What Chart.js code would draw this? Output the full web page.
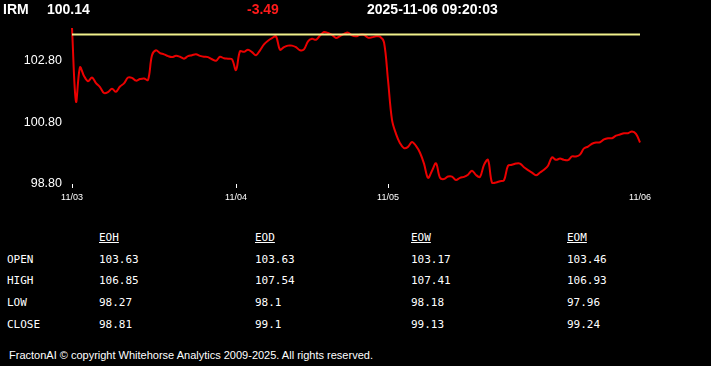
<!DOCTYPE html>
<html>
<head>
<meta charset="utf-8">
<script src="https://cdn.jsdelivr.net/npm/chart.js@4"></script>
<style>
  body { margin: 0; background: #000; width: 711px; height: 366px; overflow: hidden; position: relative; font-family: "Liberation Sans", Arial, sans-serif; }
  .hdr { position: absolute; top: 1px; font: bold 14px "Liberation Sans", Arial, sans-serif; color: #fff; line-height: 16px; }
  #chartBox { position: absolute; left: 0; top: 0; width: 711px; height: 210px; }
  .tbl { position: absolute; font: 11px "DejaVu Sans Mono", monospace; color: #fff; line-height: 14px; }
  .tbl u { text-decoration: underline; }
  #footer { position: absolute; left: 9px; top: 349px; font: 11px "Liberation Sans", Arial, sans-serif; color: #fff; letter-spacing: 0px; }
</style>
</head>
<body>
<div id="chartBox"><canvas id="priceChart"></canvas></div>
<div id="header"></div>
<div id="table"></div>
<div id="footer">FractonAI © copyright Whitehorse Analytics 2009-2025. All rights reserved.</div>
<script>
// Header values
const symbol = "IRM";
const lastPrice = "100.14";
const change = "-3.49";
const timestamp = "2025-11-06 09:20:03";

// Price series (one point every ~4px of the original plot)
const prices = [
  103.84, 101.46, 102.57, 102.29, 102.12, 102.24, 102.06, 101.93, 101.74, 101.77,
  101.88, 101.78, 101.95, 102.05, 102.24, 102.23, 102.14, 102.19, 102.21, 102.16,
  102.96, 103.12, 103.03, 102.99, 102.93, 102.90, 102.94, 102.91, 102.85, 102.93,
  102.96, 102.99, 102.94, 102.91, 102.90, 102.83, 102.78, 102.91, 102.86, 102.85,
  102.83, 102.48, 103.09, 103.07, 103.14, 103.06, 102.96, 103.12, 103.31, 103.43,
  103.51, 103.57, 103.14, 103.22, 103.27, 103.27, 103.22, 103.12, 103.15, 103.41,
  103.49, 103.46, 103.60, 103.71, 103.68, 103.62, 103.52, 103.58, 103.65, 103.69,
  103.60, 103.57, 103.62, 103.62, 103.53, 103.54, 103.57, 103.56, 103.38, 102.16,
  100.87, 100.42, 100.12, 99.96, 100.00, 100.16, 100.03, 99.81, 99.46, 99.00,
  99.23, 99.47, 99.00, 98.96, 99.04, 99.04, 98.93, 99.00, 99.03, 99.10,
  99.23, 99.09, 99.03, 99.42, 99.58, 98.84, 98.85, 98.89, 98.92, 99.39,
  99.42, 99.46, 99.46, 99.34, 99.25, 99.17, 99.08, 99.17, 99.26, 99.39,
  99.66, 99.58, 99.62, 99.58, 99.57, 99.69, 99.69, 99.75, 99.95, 100.01,
  100.10, 100.14, 100.15, 100.24, 100.28, 100.28, 100.36, 100.40, 100.44, 100.44,
  100.50, 100.42, 100.14
];
const openPrice = 103.63;

// Day labels and the index where each day starts
const dayLabels = ["11/03", "11/04", "11/05", "11/06"];
const dayStarts = [0, 41, 79, 142];

// Y axis tick labels
const yTicks = [98.80, 100.80, 102.80];
const yMin = 98.80;
const yMax = 103.84;

// Summary table
const tableCols = ["EOH", "EOD", "EOW", "EOM"];
const tableRows = ["OPEN", "HIGH", "LOW", "CLOSE"];
const openVals = ["103.63", "103.63", "103.17", "103.46"];
const highVals = ["106.85", "107.54", "107.41", "106.93"];
const lowVals = ["98.27", "98.1", "98.18", "97.96"];
const closeVals = ["98.81", "99.1", "99.13", "99.24"];

// header
const header = document.getElementById("header");
[[symbol, 3, "#fff"], [lastPrice, 47, "#fff"], [change, 247, "#ff1a1a"], [timestamp, 367, "#fff"]]
  .forEach(h => {
    const s = document.createElement("span");
    s.className = "hdr";
    s.style.left = h[1] + "px";
    s.style.color = h[2];
    s.textContent = h[0];
    header.appendChild(s);
  });

// table
const tableEl = document.getElementById("table");
const colX = [99, 255, 411, 567];
const rowY = [253, 274, 296, 318];
const rowVals = [openVals, highVals, lowVals, closeVals];
function addCell(text, x, y, underline) {
  const d = document.createElement("div");
  d.className = "tbl";
  d.style.left = x + "px";
  d.style.top = y + "px";
  if (underline) d.innerHTML = "<u>" + text + "</u>";
  else d.textContent = text;
  tableEl.appendChild(d);
}
tableCols.forEach((c, i) => addCell(c, colX[i], 231, true));
tableRows.forEach((r, j) => {
  addCell(r, 7, rowY[j], false);
  rowVals[j].forEach((v, i) => addCell(v, colX[i], rowY[j], false));
});

// chart
const labels = prices.map((p, i) => {
  let d = 0;
  dayStarts.forEach((s, k) => { if (i >= s) d = k; });
  return dayLabels[d];
});

const ctx = document.getElementById("priceChart");
new Chart(ctx, {
  type: "line",
  data: {
    labels: labels,
    datasets: [{
      data: prices.map(() => openPrice),
      borderColor: "rgb(240,240,140)",
      borderWidth: 2,
      pointRadius: 0,
      tension: 0
    }, {
      data: prices,
      borderColor: "rgb(235,0,0)",
      borderWidth: 2,
      pointRadius: 0,
      tension: 0.35
    }]
  },
  options: {
    responsive: true,
    maintainAspectRatio: false,
    animation: false,
    events: [],
    layout: { padding: { left: 0, right: 71, top: 28, bottom: 0 } },
    plugins: { legend: { display: false }, tooltip: { enabled: false } },
    scales: {
      x: {
        type: "category",
        offset: false,
        border: { display: false },
        grid: {
          drawOnChartArea: false,
          drawTicks: true,
          tickLength: 4,
          color: c => (c.index === dayStarts.length - 1 ? "rgba(0,0,0,0)" : "#fff")
        },
        afterBuildTicks: scale => { scale.ticks = dayStarts.map(v => ({ value: v })); },
        afterFit: scale => { scale.height = 26; },
        ticks: {
          autoSkip: false,
          maxRotation: 0,
          color: "#fff",
          padding: 4,
          font: { family: "'Liberation Sans', Arial", size: 9 }
        }
      },
      y: {
        min: yMin,
        max: yMax,
        border: { display: false },
        grid: { display: false, drawTicks: false },
        afterBuildTicks: scale => { scale.ticks = yTicks.map(v => ({ value: v })); },
        afterFit: scale => { scale.width = 72; },
        ticks: {
          color: "#fff",
          padding: 10,
          font: { family: "'Liberation Sans', Arial", size: 12.5 },
          callback: v => Number(v).toFixed(2)
        }
      }
    }
  }
});
</script>
</body>
</html>
